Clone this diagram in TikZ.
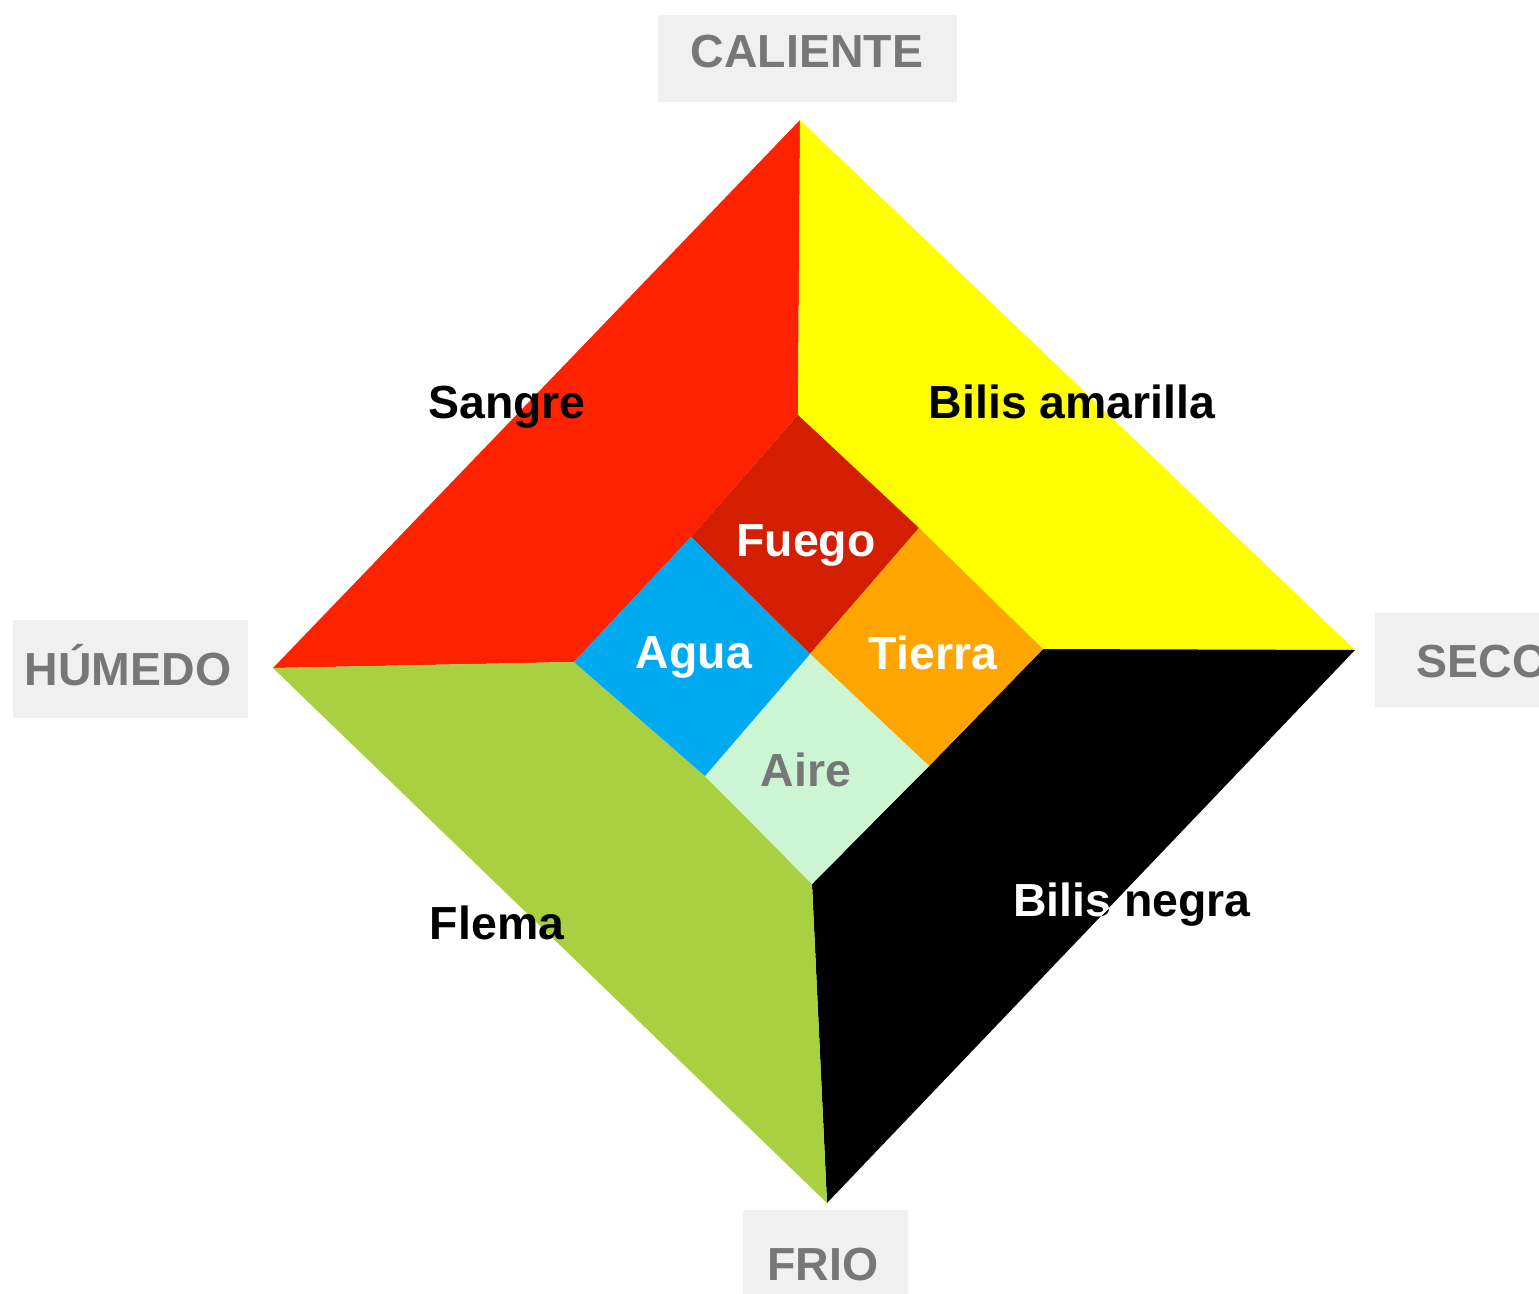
\documentclass[tikz,border=0pt]{standalone}
\usepackage{fontspec}
\setmainfont{Liberation Sans}
\definecolor{sangrecol}{RGB}{255,34,0}
\definecolor{amarillacol}{RGB}{255,255,0}
\definecolor{flemacol}{RGB}{168,208,64}
\definecolor{negracol}{RGB}{0,0,0}
\definecolor{fuegocol}{RGB}{212,30,0}
\definecolor{aguacol}{RGB}{0,170,240}
\definecolor{tierracol}{RGB}{255,165,0}
\definecolor{airecol}{RGB}{204,245,212}
\definecolor{labelgray}{RGB}{119,119,119}
\definecolor{boxgray}{RGB}{240,240,240}
\begin{document}
\begin{tikzpicture}[x=0.01cm,y=-0.01cm,
  lbl/.style={font=\fontsize{13.2}{15}\selectfont\bfseries, inner sep=0pt, text height=9.4pt, text depth=0pt, anchor=center},
  axislbl/.style={lbl, text=labelgray},
  axisbox/.style={fill=boxgray, draw=none}]
\useasboundingbox (0,0) rectangle (1539,1294);
\fill[white] (0,0) rectangle (1539,1294);
% outer corners
\coordinate (T) at (800,120);
\coordinate (L) at (273,668);
\coordinate (R) at (1355,650);
\coordinate (B) at (827,1203);
% inner corners
\coordinate (IT) at (798,415);
\coordinate (FL) at (691,537);
\coordinate (FR) at (919,528);
\coordinate (C) at (810,654);
\coordinate (AL) at (574,662);
\coordinate (TR) at (1043,649);
\coordinate (AB) at (705,776);
\coordinate (TB) at (929,766);
\coordinate (IB) at (812,884);
% outer humours
\fill[sangrecol] (T) -- (IT) -- (FL) -- (AL) -- (L) -- cycle;
\fill[amarillacol] (T) -- (R) -- (TR) -- (FR) -- (IT) -- cycle;
\fill[negracol] (R) -- (B) -- (IB) -- (TB) -- (TR) -- cycle;
\fill[flemacol] (L) -- (AL) -- (AB) -- (IB) -- (B) -- cycle;
% elements
\fill[fuegocol] (IT) -- (FR) -- (C) -- (FL) -- cycle;
\fill[tierracol] (FR) -- (TR) -- (TB) -- (C) -- cycle;
\fill[airecol] (C) -- (TB) -- (IB) -- (AB) -- cycle;
\fill[aguacol] (FL) -- (C) -- (AB) -- (AL) -- cycle;
% axis boxes
\fill[axisbox] (658,15) rectangle (957,102);
\fill[axisbox] (13,620) rectangle (248,718);
\fill[axisbox] (1375,613) rectangle (1560,707);
\fill[axisbox] (743,1210) rectangle (908,1300);
\node[axislbl] (caliente) at (807,51) {CALIENTE};
\node[axislbl] (humedo) at (128,669) {HÚMEDO};
\node[axislbl, anchor=west] (seco) at (1416,661) {SECO};
\node[axislbl] (frio) at (823,1264) {FRIO};
% humour labels
\node[lbl] (sangre) at (507,402) {Sangre};
\node[lbl] (amarilla) at (1072,402) {Bilis amarilla};
\node[lbl] (flema) at (497,923) {Flema};
\node[lbl] (negra) at (1132,900) {Bilis negra};
\begin{scope}
\clip (R) -- (B) -- (IB) -- (TB) -- (TR) -- cycle;
\node[lbl, text=white] (negrawhite) at (1132,900) {Bilis negra};
\end{scope}
% element labels
\node[lbl, text=white] (fuego) at (806,540) {Fuego};
\node[lbl, text=white] (agua) at (694,652) {Agua};
\node[lbl, text=white] (tierra) at (933,653) {Tierra};
\node[lbl, text=labelgray] (aire) at (806,770) {Aire};
\end{tikzpicture}
\end{document}
